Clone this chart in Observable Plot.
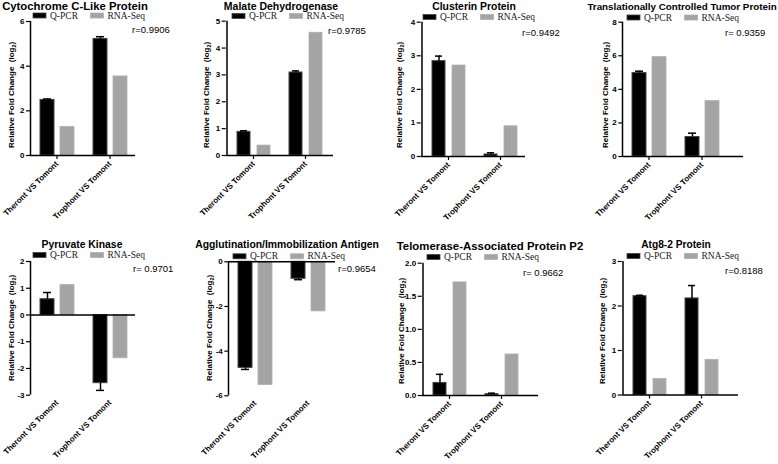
<!DOCTYPE html>
<html><head><meta charset="utf-8">
<script src="https://cdn.jsdelivr.net/npm/d3@7"></script>
<script src="https://cdn.jsdelivr.net/npm/@observablehq/plot@0.6"></script>
<style>
body{margin:0;background:#fff;}
#chart{position:relative;width:778px;height:464px;overflow:hidden;background:#fff;}
.panel{position:absolute;width:195px;height:232px;}
</style></head><body><div id="chart"></div>
<script>
// ---- data ----
const genes = ["Cytochrome C-Like Protein", "Malate Dehydrogenase", "Clusterin Protein",
  "Translationally Controlled Tumor Protein", "Pyruvate Kinase",
  "Agglutination/Immobilization Antigen", "Telomerase-Associated Protein P2", "Atg8-2 Protein"];
const comparisons = ["Theront VS Tomont", "Trophont VS Tomont"];
const series = ["Q-PCR", "RNA-Seq"];
const qpcrValues = [[2.49, 5.22], [0.88, 3.09], [2.84, 0.06], [4.97, 1.16],
  [0.59, -2.55], [-4.75, -0.76], [0.19, 0.02], [2.22, 2.17]];
const qpcrErrors = [[0.04, 0.10], [0.04, 0.06], [0.15, 0.05], [0.11, 0.23],
  [0.25, 0.27], [0.07, 0.04], [0.13, 0.015], [0.02, 0.29]];
const rnaSeqValues = [[1.28, 3.54], [0.37, 4.57], [2.71, 0.90], [5.92, 3.30],
  [1.12, -1.62], [-5.52, -2.22], [1.71, 0.62], [0.36, 0.79]];
const rLabels = ["r=0.9906", "r=0.9785", "r=0.9492", "r= 0.9359", "r= 0.9701", "r=0.9654", "r= 0.9662", "r=0.8188"];
const yDomains = [[0, 6], [0, 5], [0, 4], [0, 8], [-3, 2], [-6, 0], [0, 2], [0, 3]];
const yTickValues = [[0, 2, 4, 6], [0, 1, 2, 3, 4, 5], [0, 1, 2, 3, 4], [0, 2, 4, 6, 8],
  [-3, -2, -1, 0, 1, 2], [-6, -4, -2, 0], [0, 0.5, 1, 1.5, 2], [0, 1, 2, 3]];
const yTickFormats = ["d", "d", "d", "d", "d", "d", ".1f", "d"];

// ---- layout (positions / styles) ----
const layout = [
  {left: 0,   top: 0,   ml: 30,   xEnd: 135, yTop: 21,   yBottom: 155,   title: [75, 9.5, 11.3], legend: [33, 15.5], r: [132, 33], ylab: [11, 148]},
  {left: 195, top: 0,   ml: 30.7, xEnd: 138, yTop: 20.7, yBottom: 155,   title: [86, 9.5, 10.5], legend: [37, 16],   r: [133, 34], ylab: [11, 148]},
  {left: 390, top: 0,   ml: 30.7, xEnd: 135, yTop: 21.7, yBottom: 156,   title: [84, 10, 10.4],  legend: [33, 17],   r: [132, 36], ylab: [9.5, 148]},
  {left: 585, top: 0,   ml: 37.3, xEnd: 158, yTop: 21.7, yBottom: 156,   title: [97, 10, 9.8],   legend: [42, 17.5], r: [140, 36], ylab: [20, 148]},
  {left: 0,   top: 232, ml: 30,   xEnd: 135, yTop: 29,   yBottom: 162.7, title: [82, 16, 10.4],  legend: [33, 23],   r: [133, 40], ylab: [11, 149]},
  {left: 195, top: 232, ml: 33.3, xEnd: 140, yTop: 29.3, yBottom: 163.3, title: [92, 16, 10.4],  legend: [38, 24.3], r: [143, 40], ylab: [14, 149]},
  {left: 390, top: 232, ml: 31.7, xEnd: 148, yTop: 30.7, yBottom: 163,   title: [100, 18, 11.4], legend: [37, 25],   r: [133, 44], ylab: [11, 152]},
  {left: 585, top: 232, ml: 36.7, xEnd: 153, yTop: 29,   yBottom: 162.5, title: [91, 16, 10.2],  legend: [42, 24],   r: [140, 42], ylab: [17, 152]}
];
const W = 195, H = 232, BAND = 53;
const FILLS = ["#000000", "#a4a4a4"], STROKES = ["#444444", "#b0b0b0"];
const SANS = "'Liberation Sans', Arial, sans-serif";
const SERIF = "'Liberation Serif', 'Times New Roman', serif";

const chart = document.getElementById("chart");

genes.forEach((gene, i) => {
  const L = layout[i];
  const q = comparisons.map((c, j) => ({comparison: c, value: qpcrValues[i][j], err: qpcrErrors[i][j]}));
  const rs = comparisons.map((c, j) => ({comparison: c, value: rnaSeqValues[i][j]}));
  const errEnd = d => d.value + Math.sign(d.value) * d.err;
  const neg = yDomains[i][0] < 0;
  const fmt = yTickFormats[i] === "d" ? (d => String(d)) : d3.format(yTickFormats[i]);

  const plot = Plot.plot({
    width: W, height: H,
    marginLeft: L.ml, marginRight: W - L.xEnd, marginTop: L.yTop, marginBottom: H - L.yBottom,
    x: {type: "band", domain: comparisons, range: [L.ml, L.ml + 2 * BAND], padding: 0},
    y: {domain: yDomains[i]},
    style: {fontFamily: SANS, fontSize: "8px", fontWeight: "bold", color: "#000", background: "transparent", overflow: "visible"},
    marks: [
      Plot.barY(q, {x: "comparison", y: "value", fill: FILLS[0], stroke: STROKES[0], strokeWidth: 1, insetLeft: 10, insetRight: 29}),
      Plot.barY(rs, {x: "comparison", y: "value", fill: FILLS[1], stroke: STROKES[1], strokeWidth: 0.8, insetLeft: 30, insetRight: 9}),
      Plot.ruleX(q, {x: "comparison", y1: "value", y2: errEnd, dx: -9.5, stroke: "#000", strokeWidth: 1.5}),
      Plot.tickY(q, {x: "comparison", y: errEnd, insetLeft: 13, insetRight: 32, stroke: "#000", strokeWidth: 1.5}),
      Plot.ruleY([0], {stroke: "#000", strokeWidth: 1.5}),
      Plot.ruleX([comparisons[0]], {dx: -BAND / 2, stroke: "#000", strokeWidth: 1.5}),
      Plot.axisY({ticks: yTickValues[i], tickSize: 4, tickPadding: 2, tickFormat: fmt, fontSize: 8, fontWeight: "bold", label: null, strokeWidth: 1.2}),
      Plot.axisX({tickSize: neg ? 0 : 4, tickPadding: neg ? 6 : 3, tickRotate: -45, fontSize: 8, fontWeight: "bold", label: null, strokeWidth: 1.2})
    ]
  });

  const svg = d3.select(plot);
  const g = svg.append("g").attr("text-anchor", "start");
  // title
  g.append("text").attr("x", L.title[0]).attr("y", L.title[1]).attr("text-anchor", "middle")
    .style("font", `bold ${L.title[2]}px ${SANS}`).attr("fill", "#000").text(gene);
  // legend
  series.forEach((s, k) => {
    const x0 = L.legend[0] + k * 57.5;
    g.append("rect").attr("x", x0).attr("y", L.legend[1] - 2.5).attr("width", 13).attr("height", 5)
      .attr("fill", FILLS[k]).attr("stroke", STROKES[k]).attr("stroke-width", 0.8);
    g.append("text").attr("x", x0 + 17).attr("y", L.legend[1] + 3).attr("text-anchor", "start")
      .style("font", `normal 9.5px ${SERIF}`).attr("fill", "#222").text(s);
  });
  // correlation
  g.append("text").attr("x", L.r[0]).attr("y", L.r[1]).attr("text-anchor", "start")
    .style("font", `normal 9.5px ${SANS}`).attr("fill", "#000").text(rLabels[i]);
  // y label
  const t = g.append("text").attr("transform", `translate(${L.ylab[0]},${L.ylab[1]}) rotate(-90)`)
    .attr("text-anchor", "start").attr("dy", "0.35em").style("font", `bold 8px ${SANS}`).attr("fill", "#000");
  t.append("tspan").text("Relative Fold Change\u00a0\u00a0(log");
  t.append("tspan").attr("font-size", "5.5px").attr("dy", "1.7").text("2");
  t.append("tspan").attr("dy", "-1.7").text(")");

  const div = document.createElement("div");
  div.className = "panel";
  div.style.left = L.left + "px";
  div.style.top = L.top + "px";
  div.appendChild(plot);
  chart.appendChild(div);
});
</script>
</body></html>
